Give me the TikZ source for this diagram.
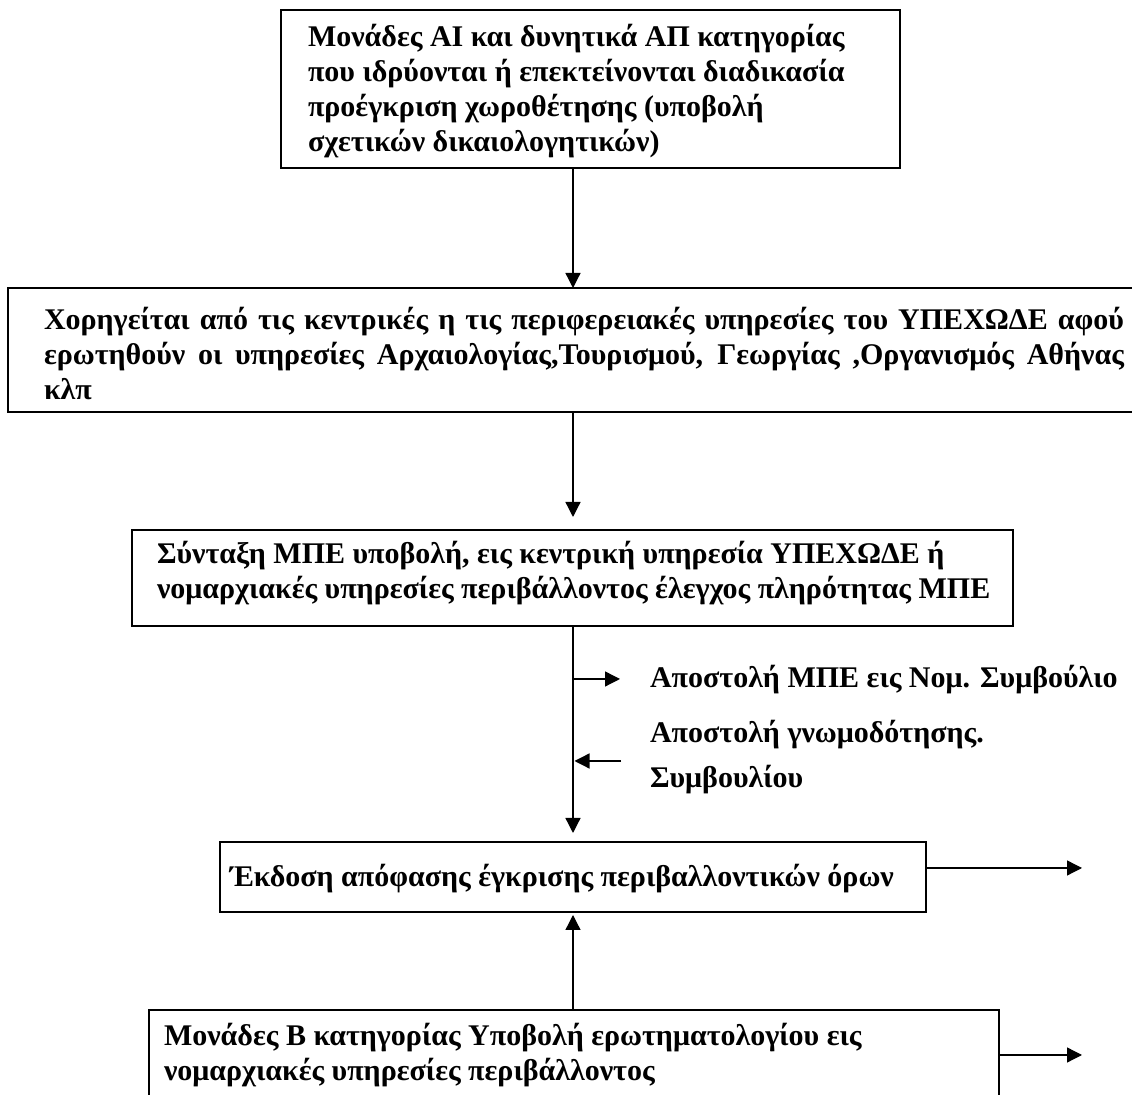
\documentclass[tikz,border=0pt]{standalone}
\usepackage{fontspec}
\setmainfont{Liberation Serif}
\usetikzlibrary{arrows.meta}
\begin{document}
\begin{tikzpicture}[x=0.5pt,y=-0.5pt,
  box/.style={draw=black, line width=1.2pt, rectangle, inner sep=0pt, outer sep=0pt, anchor=north west},
  txt/.style={font=\fontsize{15}{17.5}\selectfont\bfseries, inner sep=0pt, outer sep=0pt, anchor=base west},
  arr/.style={line width=0.65pt, -{Triangle[length=7.5pt,width=7.5pt]}}]
\useasboundingbox (0,0) rectangle (1132,1095);
\clip (0,0) rectangle (1132,1095);
\fill[white] (0,0) rectangle (1132,1095);
% boxes
\node[box, minimum width=309.5pt, minimum height=79pt] (b1) at (281,10) {};
\node[box, minimum width=571pt, minimum height=62pt] (b2) at (8,288) {};
\node[box, minimum width=440.5pt, minimum height=48pt] (b3) at (132,530) {};
\node[box, minimum width=353pt, minimum height=35pt] (b4) at (220,842) {};
\node[box, minimum width=425pt, minimum height=60pt] (b5) at (149,1010) {};
% texts
\node[txt] (t1) at (308,47) {\parbox[t]{300pt}{\raggedright
Μονάδες ΑΙ και δυνητικά ΑΠ κατηγορίας\\
που ιδρύονται ή επεκτείνονται διαδικασία\\
προέγκριση χωροθέτησης (υποβολή\\
σχετικών δικαιολογητικών)}};
\node[txt] (t2) at (44,330) {\parbox[t]{540pt}{\raggedright
\makebox[540pt][s]{Χορηγείται από τις κεντρικές η τις περιφερειακές υπηρεσίες του ΥΠΕΧΩΔΕ αφού}\\
\makebox[540pt][s]{ερωτηθούν οι υπηρεσίες Αρχαιολογίας,Τουρισμού, Γεωργίας ,Οργανισμός Αθήνας}\\
κλπ}};
\node[txt] (t3) at (157,564) {\parbox[t]{440pt}{\raggedright
Σύνταξη ΜΠΕ υποβολή, εις κεντρική υπηρεσία ΥΠΕΧΩΔΕ ή\\
νομαρχιακές υπηρεσίες περιβάλλοντος έλεγχος πληρότητας ΜΠΕ}};
\node[txt] (L1) at (650,688) {Αποστολή ΜΠΕ εις Νομ. Συμβούλιο};
\node[txt] (L2) at (650,743) {\parbox[t]{240pt}{\raggedright
Αποστολή γνωμοδότησης.\\[5pt]
Συμβουλίου}};
\node[txt] (t4) at (230,887) {Έκδοση απόφασης έγκρισης περιβαλλοντικών όρων};
\node[txt] (t5) at (164,1046) {\parbox[t]{420pt}{\raggedright
Μονάδες Β κατηγορίας Υποβολή ερωτηματολογίου εις\\
νομαρχιακές υπηρεσίες περιβάλλοντος}};
% connectors
\coordinate (X) at (573,0);
\coordinate (a2e) at (573,517);
\coordinate (a3e) at (573,833);
\coordinate (j1) at (573,679);
\coordinate (j2) at (574.5,761);
\coordinate (r1) at (1082,868);
\coordinate (r2) at (1082,1055);
\draw[arr] (b1.south -| X) -- (b2.north -| X);
\draw[arr] (b2.south -| X) -- (a2e);
\draw[arr] (b3.south -| X) -- (a3e);
\draw[arr, shorten >=15pt] (j1) -- (j1 -| L1.west);
\draw[arr, shorten <=14.5pt] (j2 -| L2.west) -- (j2);
\draw[arr, shorten >=1.5pt] (b5.north -| X) -- (b4.south -| X);
\draw[arr] (r1 -| b4.east) -- (r1);
\draw[arr] (r2 -| b5.east) -- (r2);
\end{tikzpicture}
\end{document}
